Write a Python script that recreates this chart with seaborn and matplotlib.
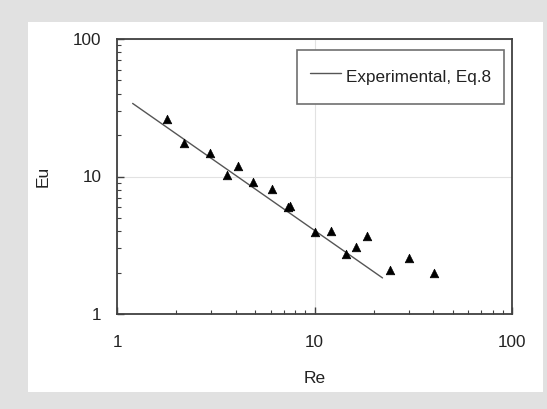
import matplotlib
matplotlib.use("Agg")
import matplotlib.pyplot as plt
import seaborn as sns
import pandas as pd
from matplotlib.patches import Rectangle

# Data
re_points = [1.79, 2.19, 2.97, 3.62, 4.09, 4.91, 6.12, 7.34, 7.50, 10.0,
             12.15, 14.5, 16.2, 18.5, 24.1, 30.1, 40.3]
eu_points = [26.3, 17.4, 14.9, 10.2, 12.0, 9.1, 8.1, 5.96, 6.06, 3.95,
             4.04, 2.74, 3.08, 3.69, 2.08, 2.55, 2.0]
line_re = [1.20, 22.1]
line_eu = [34.0, 1.83]
line_label = "Experimental, Eq.8"
x_ticks = [1, 10, 100]
y_ticks = [1, 10, 100]
x_label = "Re"
y_label = "Eu"

sns.set_theme(style="white")
plt.rcParams["font.family"] = ["Liberation Sans", "DejaVu Sans"]

pts = pd.DataFrame({"Re": re_points, "Eu": eu_points})
ln = pd.DataFrame({"Re": line_re, "Eu": line_eu})

fig = plt.figure(figsize=(5.47, 4.09), dpi=100, facecolor="#e1e1e1")
fig.patches.append(Rectangle((28 / 547, 1 - 392 / 409), (543 - 28) / 547, (392 - 22) / 409,
                             transform=fig.transFigure, facecolor="white",
                             edgecolor="none", zorder=-10))
ax = fig.add_axes([117 / 547, 1 - 314 / 409, (512 - 117) / 547, (314 - 39) / 409])
ax.set_zorder(5)
ax.set_facecolor("white")

sns.lineplot(data=ln, x="Re", y="Eu", ax=ax, color="#555555", linewidth=1.0,
             label=line_label, zorder=3)
sns.scatterplot(data=pts, x="Re", y="Eu", ax=ax, marker="^", color="black",
                s=38, edgecolor="black", linewidth=0.5, zorder=4, legend=False)

ax.set_xscale("log")
ax.set_yscale("log")
ax.set_xlim(1, 100)
ax.set_ylim(1, 100)
ax.set_xticks(x_ticks)
ax.set_yticks(y_ticks)
ax.set_xticklabels([str(t) for t in x_ticks])
ax.set_yticklabels([str(t) for t in y_ticks])
ax.grid(True, which="major", color="#e2e2e2", linewidth=0.8)
ax.grid(False, which="minor")

for s in ax.spines.values():
    s.set_color("#404040")
    s.set_linewidth(1.3)

ax.tick_params(which="major", direction="in", length=5, width=1, color="#404040",
               labelsize=12.3, labelcolor="#222222")
ax.tick_params(axis="x", which="major", pad=15)
ax.tick_params(axis="y", which="major", pad=11)
ax.tick_params(which="minor", direction="in", length=3, width=0.8, color="#404040")
ax.tick_params(which="both", bottom=True, left=True, top=False, right=False)

ax.set_xlabel(x_label, fontsize=12.5, color="#222222", labelpad=15)
ax.set_ylabel(y_label, fontsize=12.5, color="#222222", labelpad=16)

leg = ax.legend(loc="upper right", bbox_to_anchor=(504 / 547, 1 - 50 / 409),
                bbox_transform=fig.transFigure, frameon=True, fancybox=False,
                fontsize=12.3, handlelength=1.8, handleheight=2.15,
                handletextpad=0.3, borderpad=0.75, borderaxespad=0)
frame = leg.get_frame()
frame.set_edgecolor("#707070")
frame.set_linewidth(1.2)
frame.set_facecolor("white")
frame.set_alpha(1)
for t in leg.get_texts():
    t.set_color("#222222")

fig.savefig("out.png", dpi=100, facecolor=fig.get_facecolor())
